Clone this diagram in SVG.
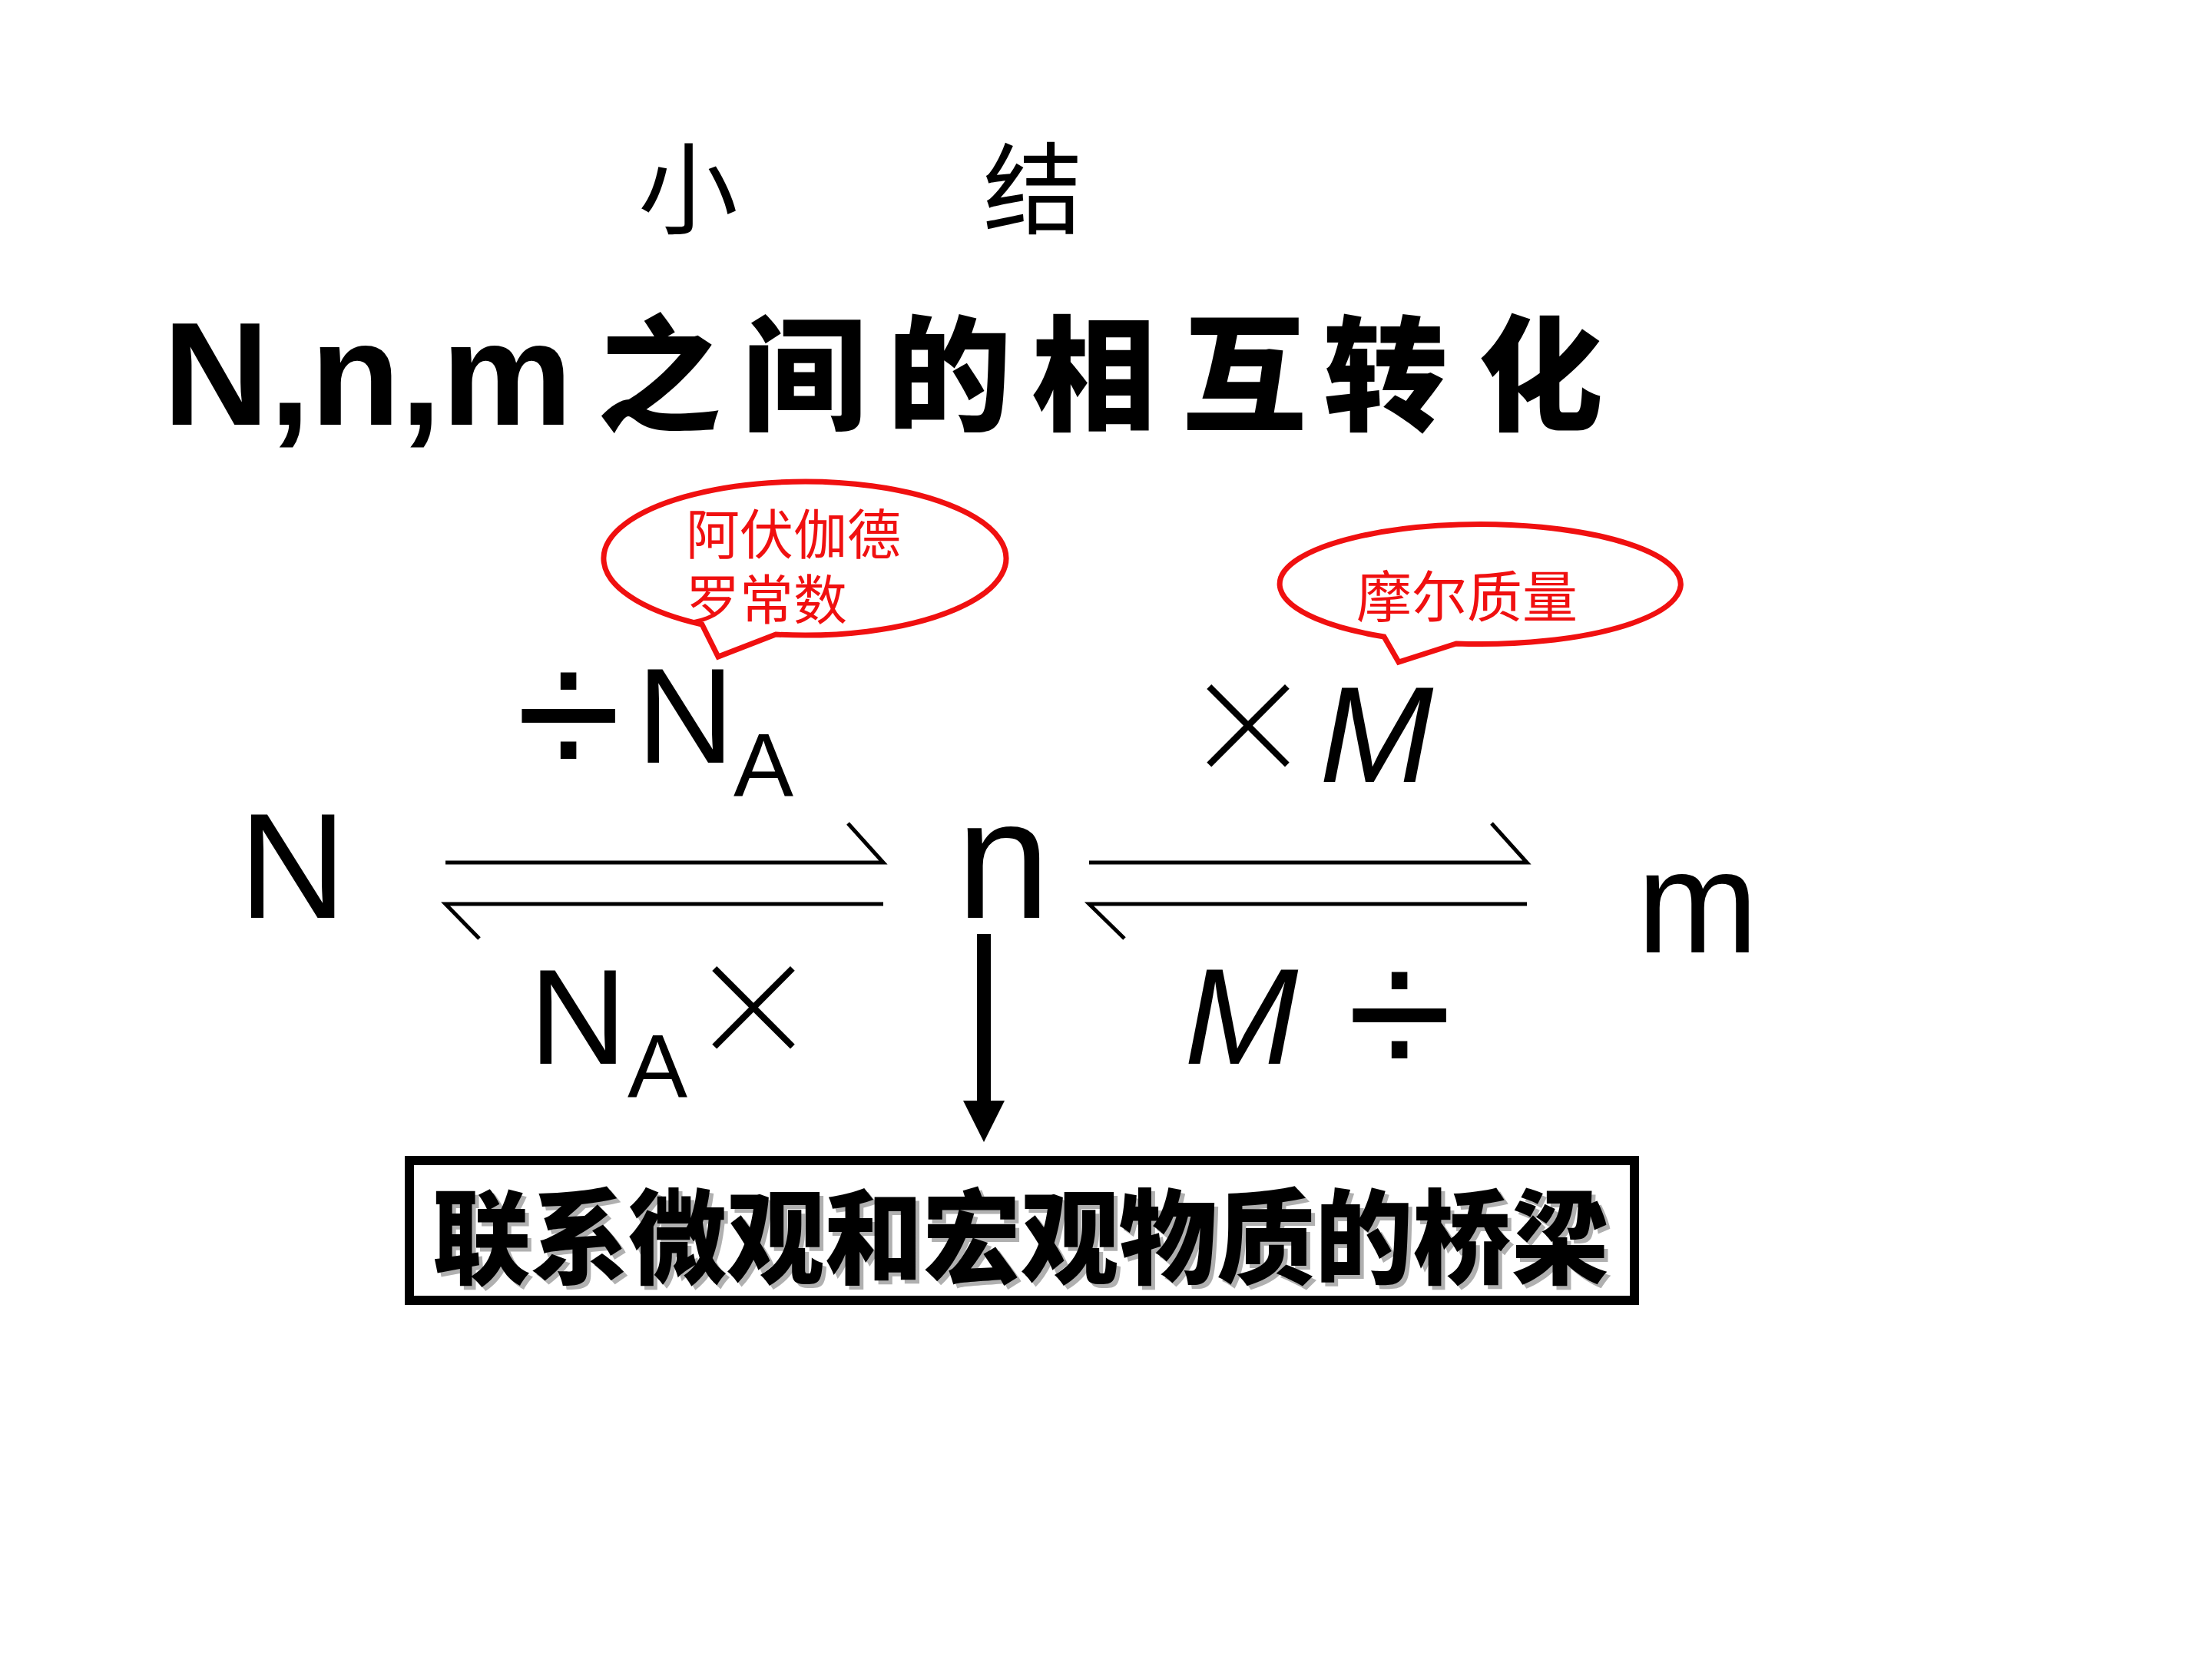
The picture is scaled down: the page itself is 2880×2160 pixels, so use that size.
<svg xmlns="http://www.w3.org/2000/svg" width="2880" height="2160" viewBox="0 0 2880 2160">
<defs>
<style>
.cjk{font-family:"Noto Sans CJK SC",sans-serif;}
.lat{font-family:"Liberation Sans",Arial,sans-serif;fill:#000;}
.it{font-family:"Liberation Sans",Arial,sans-serif;font-style:italic;fill:#000;}
.op{font-family:"Liberation Sans",Arial,sans-serif;fill:#000;text-anchor:middle;}
.mul{font-family:"Noto Sans","DejaVu Sans",sans-serif;font-weight:200;fill:#000;text-anchor:middle;}
.red{fill:#f01010;}
.bubble{fill:#fff;stroke:#f01010;stroke-width:7;stroke-linejoin:miter;}
.harp{stroke:#000;stroke-width:5;fill:none;stroke-linecap:butt;}
</style>
</defs>
<rect width="2880" height="2160" fill="#fff"/>

<g id="heading">
<text class="cjk" x="896" y="294" font-size="130" text-anchor="middle">小</text>
<text class="cjk" x="1345" y="294" font-size="130" text-anchor="middle">结</text>
</g>

<g id="title">
<text class="lat" x="212" y="553" font-size="192" font-weight="bold">N,n,m</text>
<text class="cjk" font-size="162" font-weight="900" text-anchor="middle" y="548"><tspan x="858">之</tspan><tspan x="1047">间</tspan><tspan x="1236">的</tspan><tspan x="1424">相</tspan><tspan x="1620">互</tspan><tspan x="1804">转</tspan><tspan x="2006">化</tspan></text>
</g>

<g id="bubble-avogadro">
<path class="bubble" d="M 1010 826 A 262 100 0 1 0 914 813 L 935 855 Z"/>
<text class="cjk red" font-size="70"><tspan x="893" y="722">阿伏伽德</tspan><tspan x="893" y="807">罗常数</tspan></text>
</g>

<g id="bubble-molar">
<path class="bubble" d="M 1896 838 A 261 78 0 1 0 1802 829 L 1821 862 Z"/>
<text class="cjk red" font-size="72" x="1766" y="803">摩尔质量</text>
</g>

<g id="node-N"><text class="lat" x="311" y="1195" font-size="194">N</text></g>
<g id="node-n"><text class="lat" x="1245" y="1195" font-size="220">n</text></g>
<g id="node-m"><text class="lat" x="2131" y="1240" font-size="190">m</text></g>

<g id="label-div-NA">
<text class="op" x="740" y="1015" font-size="250">÷</text>
<text class="lat" x="829" y="993" font-size="176">N</text>
<text class="lat" x="955" y="1037" font-size="117">A</text>
</g>
<g id="label-NA-times">
<text class="lat" x="689" y="1385" font-size="176">N</text>
<text class="lat" x="817" y="1429" font-size="117">A</text>
<text class="mul" x="981" y="1400" font-size="250">×</text>
</g>
<g id="label-times-M">
<text class="mul" x="1625" y="1033" font-size="250">×</text>
<text class="it" x="1718" y="1018" font-size="178">M</text>
</g>
<g id="label-M-div">
<text class="it" x="1542" y="1385" font-size="178">M</text>
<text class="op" x="1822" y="1405" font-size="250">÷</text>
</g>

<g id="connectors">
<path class="harp" d="M 580 1123 L 1150 1123 L 1104 1072"/>
<path class="harp" d="M 1150 1177 L 580 1177 L 624 1222"/>
<path class="harp" d="M 1418 1123 L 1988 1123 L 1942 1072"/>
<path class="harp" d="M 1988 1177 L 1418 1177 L 1464 1222"/>
<line x1="1281" y1="1216" x2="1281" y2="1440" stroke="#000" stroke-width="18"/>
<polygon points="1254,1433 1308,1433 1281,1487" fill="#000"/>
</g>

<g id="node-bridge">
<rect x="533" y="1511" width="1595" height="182" fill="#fff" stroke="#000" stroke-width="12"/>
<text class="cjk" x="568" y="1666" font-size="134" font-weight="900" fill="#b0b0b0" textLength="1532" lengthAdjust="spacingAndGlyphs">联系微观和宏观物质的桥梁</text>
<text class="cjk" x="563" y="1661" font-size="134" font-weight="900" fill="#000" textLength="1532" lengthAdjust="spacingAndGlyphs">联系微观和宏观物质的桥梁</text>
</g>
</svg>
